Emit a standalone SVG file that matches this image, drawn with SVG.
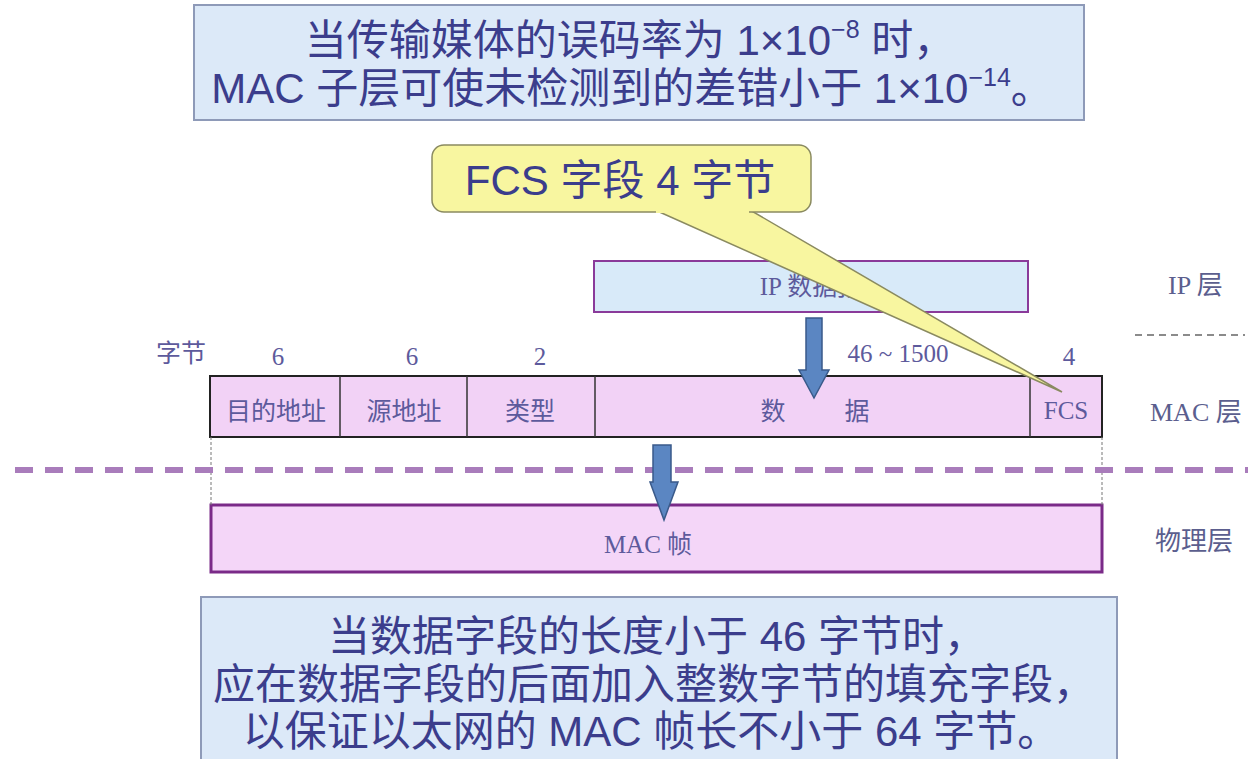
<svg xmlns="http://www.w3.org/2000/svg" width="1248" height="759" viewBox="0 0 1248 759">
<style>
.big{font-family:"Liberation Sans","Noto Sans CJK SC",sans-serif;font-size:42px;fill:#3b3d8c;text-anchor:middle}
.sm{font-family:"Liberation Serif","Noto Sans CJK SC",serif;font-size:25px;fill:#5d5a9c;text-anchor:middle}
.lay{font-family:"Liberation Serif","Noto Sans CJK SC",serif;font-size:26px;fill:#5b5e8e}
.note{fill:#dce9f8;stroke:#8e9ab8;stroke-width:2}
.cell{fill:#f2d2f6;stroke:#222;stroke-width:2}
.arr{fill:#5b86c2;stroke:#3a5a8a;stroke-width:1.5}
</style>
<rect width="1248" height="759" fill="#ffffff"/>
<g id="top-note">
<rect class="note" x="194" y="5" width="890" height="115"/>
<text class="big" x="630" y="55">当传输媒体的误码率为 1×10<tspan font-size="25" dy="-17">−8</tspan><tspan dy="17"> 时，</tspan></text>
<text class="big" x="632" y="103">MAC 子层可使未检测到的差错小于 1×10<tspan font-size="25" dy="-17">−14</tspan><tspan dy="17">。</tspan></text>
</g>
<g id="ip-datagram">
<rect x="594" y="261" width="434" height="51" fill="#d8eaf9" stroke="#8a3a9a" stroke-width="2"/>
<text class="sm" x="811" y="295" font-size="26">IP 数据报</text>
</g>
<g id="layer-labels">
<text class="lay" x="1168" y="294">IP 层</text>
<text class="lay" x="1150" y="421">MAC 层</text>
<text class="lay" x="1155" y="550">物理层</text>
<line x1="1135" y1="335" x2="1245" y2="335" stroke="#666" stroke-width="1.5" stroke-dasharray="7,5"/>
</g>
<g id="byte-counts">
<text class="sm" x="181" y="362">字节</text>
<text class="sm" x="278" y="365" font-size="26">6</text>
<text class="sm" x="412" y="365" font-size="26">6</text>
<text class="sm" x="540" y="365" font-size="26">2</text>
<text class="sm" x="898" y="362" font-size="26">46 ~ 1500</text>
<text class="sm" x="1069" y="365" font-size="26">4</text>
</g>
<g id="mac-frame-fields">
<rect class="cell" x="210" y="376" width="892" height="61" stroke-width="3"/>
<line x1="340" y1="376" x2="340" y2="437" stroke="#333" stroke-width="1.5"/>
<line x1="467" y1="376" x2="467" y2="437" stroke="#333" stroke-width="1.5"/>
<line x1="595" y1="376" x2="595" y2="437" stroke="#333" stroke-width="1.5"/>
<line x1="1030" y1="376" x2="1030" y2="437" stroke="#333" stroke-width="1.5"/>
<text class="sm" x="276" y="420">目的地址</text>
<text class="sm" x="404" y="420">源地址</text>
<text class="sm" x="530" y="420">类型</text>
<text class="sm" x="773" y="420" font-size="26">数</text>
<text class="sm" x="857" y="420" font-size="26">据</text>
<text class="sm" x="1066" y="419" font-size="27">FCS</text>
</g>
<g id="callout">
<path d="M655,210 L750,210 L1062,392 Z" fill="#f8f6a0" stroke="#8a8a60" stroke-width="1.5"/>
<rect x="432" y="145" width="379" height="67" rx="12" fill="#f8f6a0" stroke="#8a8a60" stroke-width="1.5"/>
<rect x="656" y="208" width="93" height="5" fill="#f8f6a0"/>
<text class="big" x="620" y="195" font-size="40">FCS 字段 4 字节</text>
</g>
<g id="mac-frame">
<rect x="211" y="505" width="891" height="67" fill="#f4d6f8" stroke="#7a2a88" stroke-width="3"/>
<text class="sm" x="648" y="553" font-size="27">MAC 帧</text>
</g>
<g id="connectors">
<line x1="211" y1="437" x2="211" y2="505" stroke="#777" stroke-width="1" stroke-dasharray="3,2"/>
<line x1="1102" y1="437" x2="1102" y2="505" stroke="#777" stroke-width="1" stroke-dasharray="3,2"/>
<line x1="15" y1="470" x2="1248" y2="470" stroke="#a97cbb" stroke-width="6" stroke-dasharray="18,12"/>
<path class="arr" d="M806,318 L822,318 L822,370 L829,370 L814,398 L799,370 L806,370 Z"/>
<path class="arr" d="M653,445 L671,445 L671,482 L678,482 L664,520 L650,482 L653,482 Z"/>
</g>
<g id="bottom-note">
<rect class="note" x="201" y="597" width="916" height="170"/>
<text class="big" x="657" y="651">当数据字段的长度小于 46 字节时，</text>
<text class="big" x="654" y="699">应在数据字段的后面加入整数字节的填充字段，</text>
<text class="big" x="651" y="746">以保证以太网的 MAC 帧长不小于 64 字节。</text>
</g>
</svg>
